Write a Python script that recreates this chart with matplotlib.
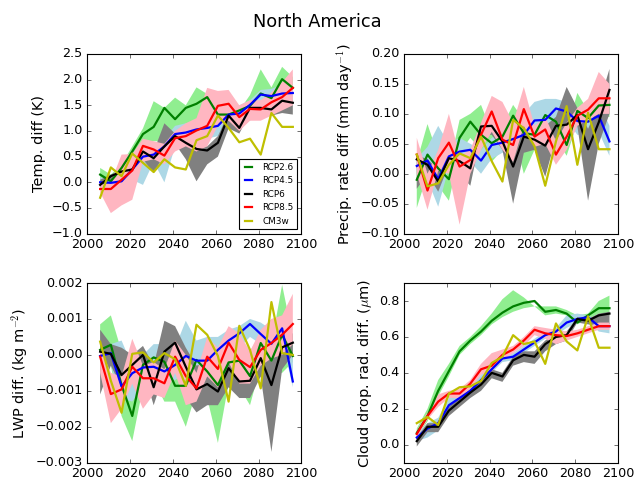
import numpy as np
import matplotlib
matplotlib.use("Agg")
import matplotlib.pyplot as plt

plt.style.use('classic')
plt.rcParams['font.size'] = 12

years = np.arange(2006, 2100, 5)

# ---- Temperature (K) ----
temp_rcp26 = [0.15, 0.02, 0.28, 0.60, 0.94, 1.08, 1.45, 1.23, 1.45, 1.53, 1.66, 1.32, 1.32, 1.40, 1.49, 1.73, 1.64, 2.01, 1.84]
temp_rcp45 = [0.00, -0.01, 0.02, 0.25, 0.50, 0.54, 0.70, 0.94, 0.97, 1.03, 1.06, 1.10, 1.32, 1.34, 1.51, 1.71, 1.68, 1.73, 1.74]
temp_rcp6 = [-0.05, 0.12, 0.21, 0.25, 0.60, 0.47, 0.70, 0.90, 0.77, 0.65, 0.62, 0.77, 1.30, 1.06, 1.45, 1.45, 1.42, 1.59, 1.55]
temp_rcp85 = [-0.13, -0.13, 0.05, 0.23, 0.71, 0.64, 0.52, 0.86, 0.90, 1.01, 1.10, 1.49, 1.53, 1.27, 1.43, 1.42, 1.56, 1.66, 1.84]
temp_cm3w = [-0.30, 0.29, 0.12, 0.56, 0.38, 0.20, 0.45, 0.29, 0.25, 0.82, 0.90, 1.30, 1.06, 0.78, 0.85, 0.54, 1.35, 1.08, 1.08]

temp_lo26 = [0.05, -0.05, 0.15, 0.45, 0.75, 0.80, 0.80, 1.05, 1.00, 1.20, 1.20, 1.35, 1.10, 1.20, 1.25, 1.50, 1.45, 1.75, 1.60]
temp_hi26 = [0.28, 0.15, 0.35, 0.70, 1.05, 1.58, 1.45, 1.65, 1.50, 1.85, 1.72, 1.75, 1.55, 1.40, 1.70, 2.20, 1.85, 2.25, 2.05]
temp_lo45 = [-0.10, -0.30, -0.15, 0.05, -0.05, 0.40, 0.00, 0.70, 0.70, 0.80, 0.85, 0.90, 1.10, 1.15, 1.20, 1.40, 1.50, 1.55, 1.60]
temp_hi45 = [0.10, 0.05, 0.10, 0.35, 0.60, 0.70, 0.85, 1.10, 1.15, 1.20, 1.25, 1.30, 1.40, 1.50, 1.60, 1.80, 1.82, 1.90, 1.85]
temp_lo6 = [-0.10, 0.05, 0.15, 0.20, 0.45, 0.18, 0.55, 0.75, 0.45, 0.02, 0.35, 0.50, 1.05, 0.95, 1.35, 1.30, 1.30, 1.35, 1.32]
temp_hi6 = [0.05, 0.15, 0.25, 0.30, 0.60, 0.60, 1.15, 0.95, 0.85, 0.75, 0.70, 0.90, 1.35, 1.20, 1.50, 1.50, 1.50, 1.65, 1.60]
temp_lo85 = [-0.20, -0.60, -0.45, -0.34, 0.40, 0.45, 0.35, 0.60, 0.70, 0.60, 0.70, 1.10, 1.20, 1.00, 1.20, 1.20, 1.30, 1.40, 1.50]
temp_hi85 = [-0.05, 0.00, 0.54, 0.55, 0.85, 0.80, 0.75, 1.00, 1.15, 1.25, 1.84, 1.78, 1.80, 1.50, 1.60, 1.60, 1.75, 1.95, 2.20]

# ---- Precipitation rate (mm/day) ----
pr_rcp26 = [-0.010, 0.032, 0.009, -0.009, 0.060, 0.087, 0.065, 0.051, 0.062, 0.097, 0.068, 0.065, 0.098, 0.087, 0.048, 0.105, 0.093, 0.114, 0.115]
pr_rcp45 = [0.013, 0.022, -0.009, 0.029, 0.037, 0.040, 0.022, 0.048, 0.052, 0.058, 0.065, 0.089, 0.090, 0.109, 0.104, 0.088, 0.087, 0.097, 0.054]
pr_rcp6 = [0.024, 0.015, -0.013, 0.026, 0.021, 0.009, 0.079, 0.080, 0.054, 0.012, 0.062, 0.057, 0.047, 0.080, 0.082, 0.098, 0.041, 0.086, 0.140]
pr_rcp85 = [0.032, -0.028, 0.026, 0.052, 0.012, 0.023, 0.065, 0.104, 0.057, 0.048, 0.108, 0.062, 0.074, 0.032, 0.062, 0.097, 0.107, 0.126, 0.126]
pr_cm3w = [0.032, -0.021, -0.016, 0.015, 0.034, 0.026, 0.062, 0.021, -0.013, 0.090, 0.076, 0.046, -0.020, 0.054, 0.113, 0.015, 0.102, 0.041, 0.041]

pr_lo26 = [-0.057, 0.000, -0.020, -0.045, 0.035, 0.060, 0.040, 0.020, 0.040, 0.070, 0.000, 0.040, 0.075, 0.060, 0.030, 0.085, 0.075, 0.095, 0.095]
pr_hi26 = [0.020, 0.083, 0.030, 0.010, 0.090, 0.100, 0.115, 0.070, 0.080, 0.115, 0.090, 0.080, 0.115, 0.120, 0.070, 0.135, 0.105, 0.130, 0.130]
pr_lo45 = [0.000, -0.010, -0.055, 0.010, 0.020, 0.020, 0.000, 0.025, 0.035, 0.040, 0.045, 0.070, 0.065, 0.080, 0.090, 0.065, 0.065, 0.070, 0.030]
pr_hi45 = [0.025, 0.045, 0.080, 0.050, 0.060, 0.050, 0.040, 0.060, 0.070, 0.075, 0.100, 0.120, 0.125, 0.125, 0.120, 0.110, 0.120, 0.120, 0.080]
pr_lo6 = [-0.025, 0.000, -0.030, 0.015, 0.000, -0.020, 0.065, 0.065, 0.040, -0.050, 0.035, 0.040, -0.005, 0.060, 0.060, 0.080, -0.045, 0.050, 0.100]
pr_hi6 = [0.030, 0.025, 0.005, 0.035, 0.030, 0.020, 0.085, 0.090, 0.070, 0.040, 0.085, 0.075, 0.080, 0.095, 0.145, 0.110, 0.075, 0.115, 0.175]
pr_lo85 = [0.000, -0.060, 0.005, 0.000, -0.085, 0.000, 0.040, 0.070, 0.040, 0.020, 0.080, 0.045, 0.050, 0.015, 0.040, 0.080, 0.090, 0.100, 0.100]
pr_hi85 = [0.060, 0.000, 0.040, 0.100, 0.030, 0.040, 0.085, 0.130, 0.120, 0.085, 0.145, 0.080, 0.095, 0.055, 0.085, 0.110, 0.125, 0.170, 0.150]

# ---- Liquid water path (kg m-2), in units of 1e-3 ----
lwp_rcp26 = [0.14, 0.28, -0.84, -1.70, -0.28, -0.07, -0.19, -0.86, -0.86, -0.14, -0.46, -0.84, -0.21, -0.16, -0.59, 0.33, -0.16, 0.56, -0.03]
lwp_rcp45 = [-0.03, 0.05, -0.88, -0.51, -0.35, -0.33, -0.46, -0.28, -0.03, -0.16, -0.16, 0.14, 0.40, 0.60, 0.86, 0.58, 0.31, 0.74, -0.74]
lwp_rcp6 = [0.09, 0.03, -0.56, -0.28, 0.00, -0.90, 0.09, 0.34, -0.33, -0.96, -0.81, -1.02, -0.37, -0.74, -0.72, -0.09, -0.84, 0.21, 0.34]
lwp_rcp85 = [-0.05, -1.09, -0.96, -0.33, -0.65, -0.65, -0.79, -0.05, -0.59, -0.93, -0.05, -0.39, 0.34, -0.14, -0.34, 0.14, 0.33, 0.56, 0.86]
lwp_cm3w = [0.37, -0.72, -1.61, 0.03, 0.07, -0.21, 0.05, -0.12, -0.86, 0.84, 0.56, -0.03, -1.30, 0.81, 0.14, -0.93, 1.47, 0.05, 0.00]

lwp_lo26 = [-0.40, -0.30, -1.70, -2.40, -0.90, -0.70, -1.30, -1.30, -2.00, -1.00, -1.20, -2.45, -0.80, -0.90, -1.40, -0.30, -0.60, -0.50, -0.20]
lwp_hi26 = [0.85, 1.10, 0.10, -1.00, -0.10, 0.20, 0.10, -0.30, -0.20, 0.30, 0.20, 0.00, 0.30, 0.40, 0.10, 0.60, 0.30, 1.95, 0.50]
lwp_lo45 = [-0.30, -0.30, -1.20, -1.30, -0.90, -0.70, -0.80, -0.70, -0.50, -0.60, -0.60, -0.20, 0.00, 0.20, 0.50, 0.30, -0.10, 0.40, -0.90]
lwp_hi45 = [0.20, 0.30, 0.40, -0.30, 0.00, 0.30, 0.30, 0.20, 0.95, 0.40, 0.50, 0.50, 0.70, 0.80, 1.00, 0.90, 0.70, 0.95, 0.20]
lwp_lo6 = [-1.10, -0.30, -0.90, -0.60, -0.40, -1.40, -0.50, -0.10, -1.20, -1.60, -1.40, -1.40, -0.90, -1.20, -1.20, -0.60, -2.70, -0.40, 0.00]
lwp_hi6 = [0.70, 0.30, 0.20, 0.00, 0.25, -0.30, 0.95, 0.80, 0.20, -0.30, -0.20, -0.50, 0.20, -0.30, -0.30, 0.30, -0.20, 0.50, 0.60]
lwp_lo85 = [-0.50, -1.90, -1.50, -0.80, -1.50, -1.10, -1.20, -0.50, -1.40, -1.30, -0.60, -0.90, -0.20, -0.80, -0.80, -0.30, -0.10, 0.00, 0.30]
lwp_hi85 = [0.20, -0.50, -0.60, 0.45, -0.30, -0.20, -0.40, 0.40, 0.00, -0.50, 0.50, 0.20, 0.80, 0.60, 0.10, 0.70, 1.00, 1.10, 1.70]

# ---- Cloud droplet radius (um) ----
re_rcp26 = [0.065, 0.16, 0.30, 0.41, 0.52, 0.58, 0.63, 0.69, 0.735, 0.77, 0.79, 0.80, 0.74, 0.75, 0.73, 0.68, 0.72, 0.76, 0.76]
re_rcp45 = [0.04, 0.09, 0.12, 0.22, 0.26, 0.30, 0.36, 0.42, 0.48, 0.49, 0.53, 0.57, 0.61, 0.63, 0.68, 0.70, 0.71, 0.66, 0.66]
re_rcp6 = [0.02, 0.10, 0.10, 0.19, 0.24, 0.29, 0.335, 0.40, 0.38, 0.47, 0.50, 0.49, 0.56, 0.60, 0.61, 0.70, 0.69, 0.72, 0.73]
re_rcp85 = [0.06, 0.16, 0.24, 0.285, 0.285, 0.34, 0.42, 0.44, 0.50, 0.53, 0.58, 0.64, 0.62, 0.61, 0.605, 0.62, 0.64, 0.66, 0.66]
re_cm3w = [0.12, 0.155, 0.11, 0.285, 0.32, 0.325, 0.355, 0.455, 0.49, 0.61, 0.56, 0.575, 0.45, 0.675, 0.575, 0.525, 0.715, 0.54, 0.54]

re_lo26 = [0.04, 0.13, 0.27, 0.38, 0.50, 0.56, 0.61, 0.67, 0.71, 0.74, 0.76, 0.77, 0.72, 0.73, 0.72, 0.67, 0.70, 0.73, 0.72]
re_hi26 = [0.09, 0.20, 0.36, 0.45, 0.55, 0.60, 0.66, 0.73, 0.81, 0.86, 0.82, 0.77, 0.77, 0.77, 0.75, 0.72, 0.73, 0.80, 0.83]
re_lo45 = [0.02, 0.04, 0.08, 0.19, 0.23, 0.27, 0.33, 0.40, 0.46, 0.47, 0.51, 0.55, 0.59, 0.61, 0.65, 0.68, 0.69, 0.63, 0.62]
re_hi45 = [0.06, 0.12, 0.15, 0.26, 0.30, 0.33, 0.39, 0.45, 0.50, 0.51, 0.55, 0.59, 0.63, 0.65, 0.72, 0.73, 0.72, 0.69, 0.68]
re_lo6 = [-0.01, 0.07, 0.07, 0.16, 0.21, 0.26, 0.30, 0.37, 0.35, 0.44, 0.46, 0.45, 0.52, 0.56, 0.58, 0.68, 0.67, 0.66, 0.67]
re_hi6 = [0.04, 0.12, 0.12, 0.21, 0.27, 0.31, 0.36, 0.42, 0.40, 0.49, 0.52, 0.52, 0.58, 0.62, 0.63, 0.71, 0.70, 0.73, 0.74]
re_lo85 = [0.04, 0.14, 0.21, 0.26, 0.26, 0.31, 0.39, 0.41, 0.47, 0.51, 0.55, 0.61, 0.59, 0.56, 0.58, 0.60, 0.62, 0.64, 0.64]
re_hi85 = [0.08, 0.18, 0.28, 0.30, 0.31, 0.36, 0.45, 0.51, 0.53, 0.55, 0.60, 0.66, 0.65, 0.64, 0.63, 0.64, 0.66, 0.68, 0.68]

labels = ['RCP2.6', 'RCP4.5', 'RCP6', 'RCP8.5', 'CM3w']
line_colors = ['g', 'b', 'k', 'r', 'y']
band_colors = ['lightgreen', 'lightblue', 'gray', 'lightpink']

panels = [
    dict(lines=[temp_rcp26, temp_rcp45, temp_rcp6, temp_rcp85, temp_cm3w],
         bands=[(temp_lo26, temp_hi26), (temp_lo45, temp_hi45), (temp_lo6, temp_hi6), (temp_lo85, temp_hi85)],
         scale=1.0, ylim=(-1.0, 2.5), yticks=np.arange(-1.0, 2.51, 0.5), fmt='%.1f',
         ylabel='Temp. diff (K)'),
    dict(lines=[pr_rcp26, pr_rcp45, pr_rcp6, pr_rcp85, pr_cm3w],
         bands=[(pr_lo26, pr_hi26), (pr_lo45, pr_hi45), (pr_lo6, pr_hi6), (pr_lo85, pr_hi85)],
         scale=1.0, ylim=(-0.10, 0.20), yticks=np.arange(-0.10, 0.201, 0.05), fmt='%.2f',
         ylabel='Precip. rate diff (mm day$^{-1}$)'),
    dict(lines=[lwp_rcp26, lwp_rcp45, lwp_rcp6, lwp_rcp85, lwp_cm3w],
         bands=[(lwp_lo26, lwp_hi26), (lwp_lo45, lwp_hi45), (lwp_lo6, lwp_hi6), (lwp_lo85, lwp_hi85)],
         scale=1e-3, ylim=(-0.003, 0.002), yticks=np.arange(-0.003, 0.00201, 0.001), fmt='%.3f',
         ylabel='LWP diff. (kg m$^{-2}$)'),
    dict(lines=[re_rcp26, re_rcp45, re_rcp6, re_rcp85, re_cm3w],
         bands=[(re_lo26, re_hi26), (re_lo45, re_hi45), (re_lo6, re_hi6), (re_lo85, re_hi85)],
         scale=1.0, ylim=(-0.1, 0.9), yticks=np.arange(0.0, 0.81, 0.2), fmt='%.1f',
         ylabel='Cloud drop. rad. diff. ($\\mu$m)'),
]


def tick_fmt(fmt):
    # classic-style labels with a real minus sign
    def f(x, pos):
        s = fmt % (round(x, 6) + 0.0)
        return s.replace('-', '\u2212')
    return matplotlib.ticker.FuncFormatter(f)


fig, axes = plt.subplots(2, 2, figsize=(7.925, 5.9625), dpi=80)
fig.subplots_adjust(left=0.1377, right=0.9748, top=0.8868, bottom=0.030, wspace=0.479, hspace=0.275)

for ax, p in zip(axes.flat, panels):
    s = p['scale']
    for (lo, hi), c in zip(p['bands'], band_colors):
        ax.fill_between(years, np.array(lo) * s, np.array(hi) * s, color=c, edgecolor='none')
    for vals, c, lab in zip(p['lines'], line_colors, labels):
        ax.plot(years, np.array(vals) * s, color=c, lw=2, label=lab)
    ax.set_xlim(2000, 2100)
    ax.set_xticks(np.arange(2000, 2101, 20))
    ax.set_ylim(*p['ylim'])
    ax.set_yticks(p['yticks'])
    ax.yaxis.set_major_formatter(tick_fmt(p['fmt']))
    ax.tick_params(labelsize=11.5)
    ax.set_ylabel(p['ylabel'], fontsize=13)

axes[0, 0].legend(loc='lower right', prop={'size': 8}, handlelength=1.4)
fig.suptitle('North America', fontsize=16, y=0.972)

fig.savefig('out.png', dpi=80)
